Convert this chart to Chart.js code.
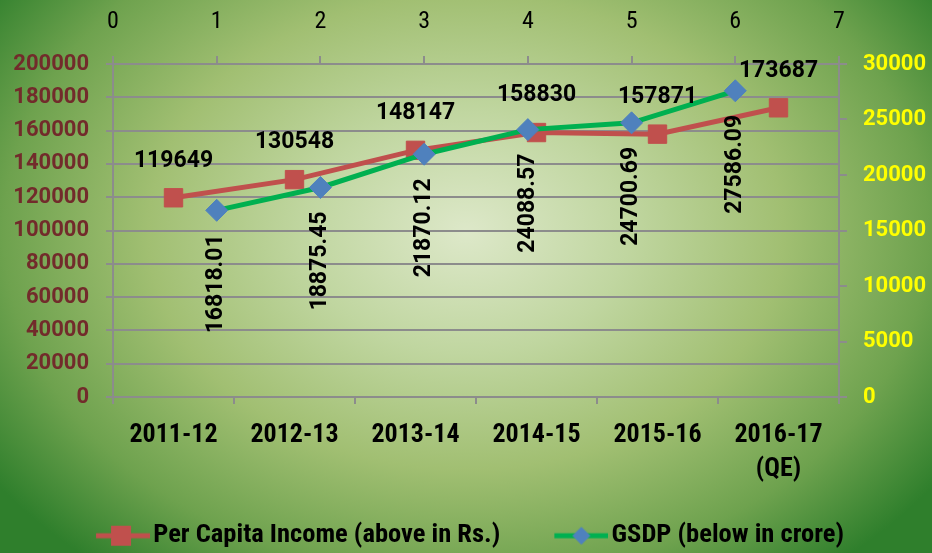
<!DOCTYPE html>
<html><head><meta charset="utf-8">
<script src="https://cdn.jsdelivr.net/npm/chart.js@4/dist/chart.umd.min.js"></script>
<style>
html,body{margin:0;padding:0;width:932px;height:553px;overflow:hidden}
#wrap{position:relative;width:932px;height:553px;background:radial-gradient(ellipse 62% 78% at 50% 42%, #dde8c9 0%, #c0d6a0 28%, #a1bf72 55%, #6ea24e 80%, #2f7f2c 100%)}
</style></head><body>
<div id="wrap"><canvas id="c" width="932" height="553"></canvas></div>
<script>
const categories = ['2011-12', '2012-13', '2013-14', '2014-15', '2015-16', ['2016-17', '(QE)']];
const perCapitaIncome = [119649, 130548, 148147, 158830, 157871, 173687];
const gsdpPositions = [1, 2, 3, 4, 5, 6];
const gsdp = [16818.01, 18875.45, 21870.12, 24088.57, 24700.69, 27586.09];
const gsdpLabels = ['16818.01', '18875.45', '21870.12', '24088.57', '24700.69', '27586.09'];
const seriesNames = ['Per Capita Income (above in Rs.)', 'GSDP (below in crore)'];

const NARROW = '"Roboto Condensed", Roboto, sans-serif';
const GRID = '#8c8c8c';

// legend icon: transparent left half, line + marker in the right 54px
function legendIcon(lineColor, markerColor, shape){
  const c=document.createElement('canvas'); c.width=108; c.height=24;
  const g=c.getContext('2d');
  g.strokeStyle=lineColor; g.lineWidth=5; g.beginPath(); g.moveTo(54,12); g.lineTo(108,12); g.stroke();
  g.fillStyle=markerColor;
  if(shape==='rect'){ g.fillRect(69,2,20,20); }
  else { g.beginPath(); g.moveTo(81,3); g.lineTo(90,12); g.lineTo(81,21); g.lineTo(72,12); g.closePath(); g.fill(); }
  return c;
}

const legendNudge = {
  id:'legendNudge',
  afterLayout(chart){
    const l=chart.legend; if(!l) return;
    l.left -= 18; l.right -= 18; l.top += 6; l.bottom += 6;
  }
};

const valueLabels = {
  id:'valueLabels',
  afterDatasetsDraw(chart){
    const ctx=chart.ctx;
    const m0=chart.getDatasetMeta(0), m1=chart.getDatasetMeta(1);
    ctx.save();
    ctx.fillStyle='#000';
    ctx.font='bold 23px Roboto';
    ctx.textAlign='center'; ctx.textBaseline='middle';
    m0.data.forEach((pt,i)=>ctx.fillText(String(perCapitaIncome[i]), pt.x, pt.y-37));
    m1.data.forEach((pt,i)=>{
      ctx.save(); ctx.translate(pt.x, pt.y+24); ctx.rotate(-Math.PI/2);
      ctx.textAlign='right'; ctx.fillText(gsdpLabels[i],0,0); ctx.restore();
    });
    ctx.restore();
  }
};

new Chart(document.getElementById('c'), {
  type:'line',
  data:{
    labels: categories,
    datasets:[
      {label:seriesNames[0], data:perCapitaIncome, xAxisID:'x', yAxisID:'y', order:1,
       borderColor:'#c0504d', backgroundColor:'#c0504d', borderWidth:5,
       pointStyle:'rect', pointRadius:13, pointHoverRadius:13, pointBackgroundColor:'#c0504d', pointBorderColor:'#c0504d', pointBorderWidth:1},
      {label:seriesNames[1], data:gsdp.map((v,i)=>({x:gsdpPositions[i], y:v})), xAxisID:'x2', yAxisID:'y2', order:0,
       borderColor:'#00b050', backgroundColor:'#4f81bd', borderWidth:5,
       pointStyle:'rectRot', pointRadius:11, pointHoverRadius:11, pointBackgroundColor:'#4f81bd', pointBorderColor:'#4f81bd', pointBorderWidth:1}
    ]
  },
  options:{
    responsive:false, animation:false, devicePixelRatio:1,
    layout:{padding:0},
    plugins:{
      tooltip:{enabled:false},
      legend:{
        position:'bottom',
        labels:{
          usePointStyle:true, pointStyleWidth:88, padding:10,
          color:'#000', font:{family:NARROW, size:26.5, weight:'bold'},
          generateLabels(chart){
            return [
              {text:seriesNames[0], pointStyle:legendIcon('#c0504d','#c0504d','rect'), datasetIndex:0, fillStyle:'#c0504d', strokeStyle:'#c0504d', lineWidth:0, fontColor:'#000'},
              {text:seriesNames[1], pointStyle:legendIcon('#00b050','#4f81bd','diamond'), datasetIndex:1, fillStyle:'#4f81bd', strokeStyle:'#4f81bd', lineWidth:0, fontColor:'#000'}
            ];
          }
        }
      }
    },
    scales:{
      x:{type:'category', position:'bottom', offset:true,
         grid:{offset:true, drawOnChartArea:false, tickLength:7, color:GRID, lineWidth:2},
         border:{display:false},
         ticks:{color:'#000', font:{family:NARROW, size:26, weight:'bold', lineHeight:1.3}, padding:15, maxRotation:0, autoSkip:false},
         afterFit(s){ s.height = 553-397 - s.chart.legend.height; }},
      x2:{type:'linear', position:'top', min:0, max:7,
         ticks:{stepSize:1, color:'#000', font:{family:NARROW, size:24}, padding:20},
         grid:{drawOnChartArea:false, tickLength:8, color:GRID, lineWidth:2},
         border:{display:false},
         afterFit(s){ s.height = 64; }},
      y:{position:'left', min:0, max:200000,
         ticks:{stepSize:20000, color:'#722b2b', font:{family:'Roboto', size:22, weight:'bold'}, padding:17, callback:v=>String(v)},
         grid:{color:GRID, lineWidth:2, tickLength:7},
         border:{color:GRID, width:2},
         afterFit(s){ s.width = 113; }},
      y2:{position:'right', min:0, max:30000,
         ticks:{stepSize:5000, color:'#ffff00', font:{family:'Roboto', size:22, weight:'bold'}, padding:16, callback:v=>String(v)},
         grid:{drawOnChartArea:false, tickLength:8, color:GRID, lineWidth:2},
         border:{color:GRID, width:2},
         afterFit(s){ s.width = 93; }}
    }
  },
  plugins:[valueLabels, legendNudge]
});
</script>
</body></html>
